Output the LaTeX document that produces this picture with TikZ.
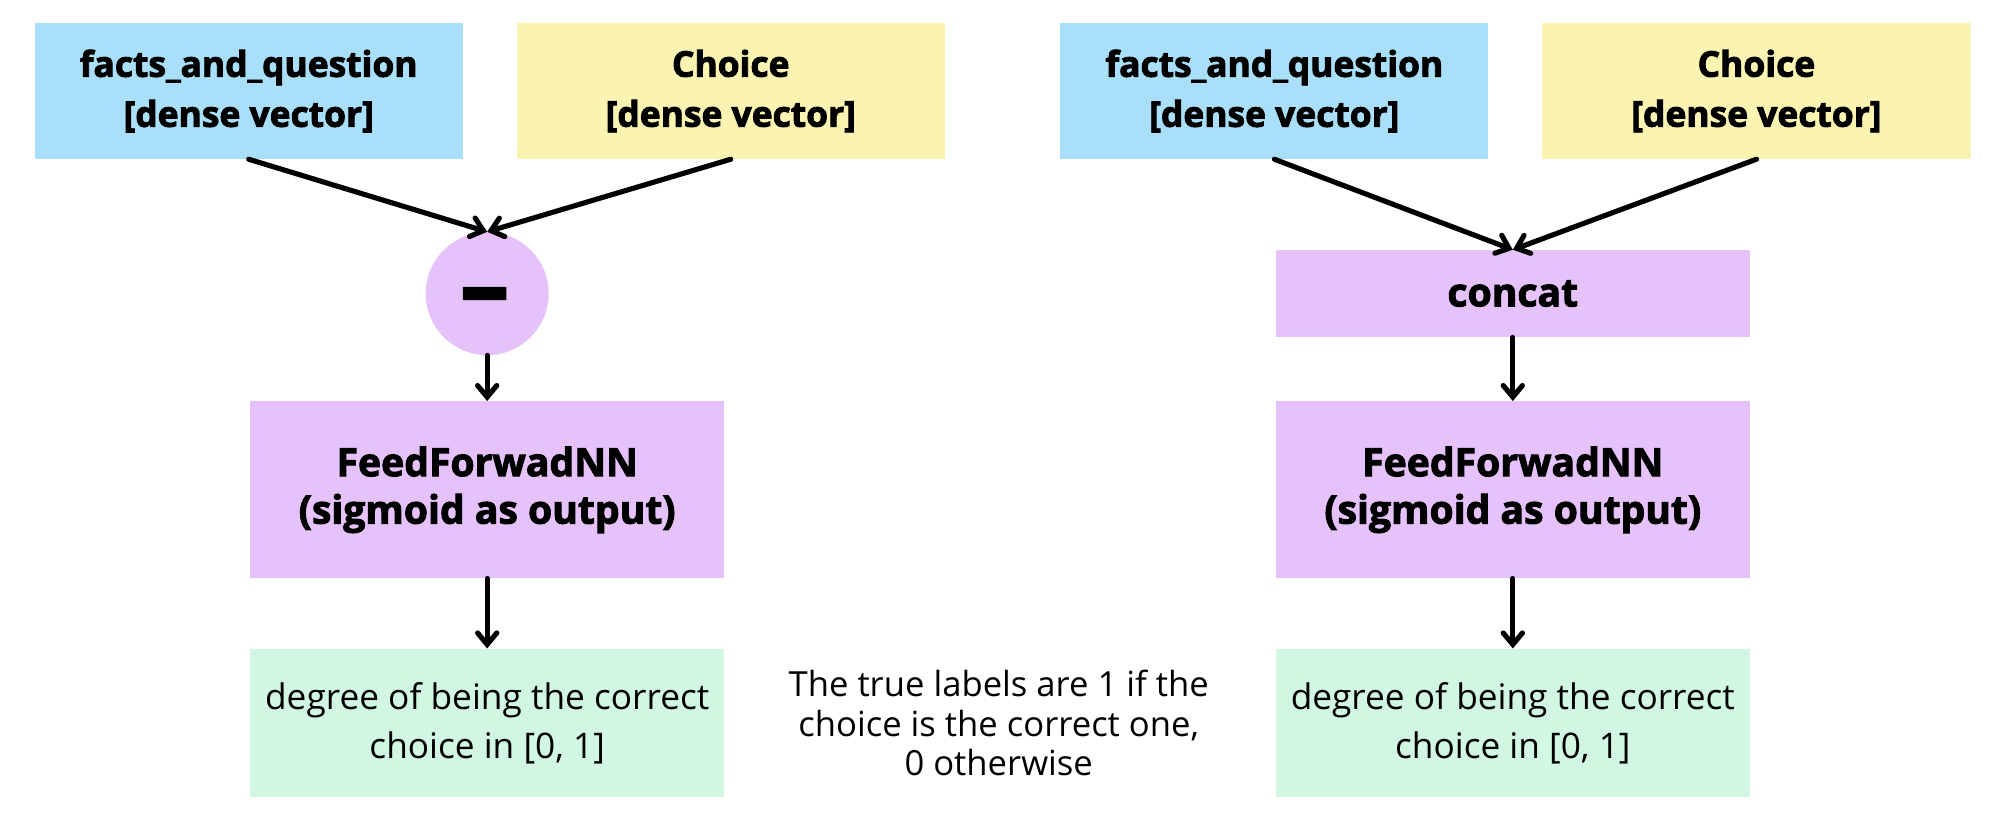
\documentclass[tikz,border=0pt]{standalone}
\usepackage{fontspec}
\setmainfont{Open Sans}[BoldFeatures={FakeBold=2.5}]
\usetikzlibrary{arrows.meta}
\definecolor{cblue}{HTML}{A9DFF8}
\definecolor{cyellow}{HTML}{FAF3B1}
\definecolor{cpurple}{HTML}{E5C3FA}
\definecolor{cgreen}{HTML}{D1F6E1}
\begin{document}
\begin{tikzpicture}[x=1pt,y=-1pt,
  box/.style={rectangle,inner sep=0pt,align=center,text=black},
  inbox/.style={box,font=\fontsize{27.6}{39}\selectfont\bfseries,minimum width=334pt,minimum height=106pt},
  procbox/.style={box,font=\fontsize{30.5}{37}\selectfont\bfseries,fill=cpurple,minimum width=370pt},
  outbox/.style={box,font=\fontsize{27.5}{38}\selectfont,fill=cgreen,minimum width=370pt,minimum height=116pt},
  conn/.style={line width=4pt,line cap=round,-{Straight Barb[length=9pt,width=15pt,line cap=round]}}
]
\useasboundingbox (0,0) rectangle (1560,638);
% left
\node[inbox,fill=cblue] (fqL) at (194,71) {facts\_and\_question\\{}{[}dense vector{]}};
\node[inbox,fill=cyellow] (chL) at (570,71) {Choice\\{}{[}dense vector{]}};
\node[circle,fill=cpurple,minimum size=96pt,inner sep=0pt] (minus) at (380,229) {};
\node[font=\fontsize{76}{76}\selectfont\bfseries,inner sep=0pt] (minustxt) at (378,237) {–};
\node[procbox,minimum height=138pt] (ffL) at (380,382) {FeedForwadNN\\(sigmoid as output)};
\node[outbox] (outL) at (380,564) {degree of being the correct\\choice in {[}0, 1{]}};
% right
\node[inbox,fill=cblue] (fqR) at (994,71) {facts\_and\_question\\{}{[}dense vector{]}};
\node[inbox,fill=cyellow] (chR) at (1370,71) {Choice\\{}{[}dense vector{]}};
\node[procbox,minimum height=68pt] (concat) at (1180,229) {concat};
\node[procbox,minimum height=138pt] (ffR) at (1180,382) {FeedForwadNN\\(sigmoid as output)};
\node[outbox] (outR) at (1180,564) {degree of being the correct\\choice in {[}0, 1{]}};
% middle note
\node[box,font=\fontsize{27}{31}\selectfont] (note) at (779,564) {The true labels are 1 if the\\choice is the correct one,\\0 otherwise};
% connectors
\draw[conn] (fqL.south) -- (minus.north);
\draw[conn] (chL.south) -- (minus.north);
\draw[conn] (minus.south) -- (ffL.north);
\draw[conn] (ffL.south) -- (outL.north);
\draw[conn] (fqR.south) -- (concat.north);
\draw[conn] (chR.south) -- (concat.north);
\draw[conn] (concat.south) -- (ffR.north);
\draw[conn] (ffR.south) -- (outR.north);
\end{tikzpicture}
\end{document}
